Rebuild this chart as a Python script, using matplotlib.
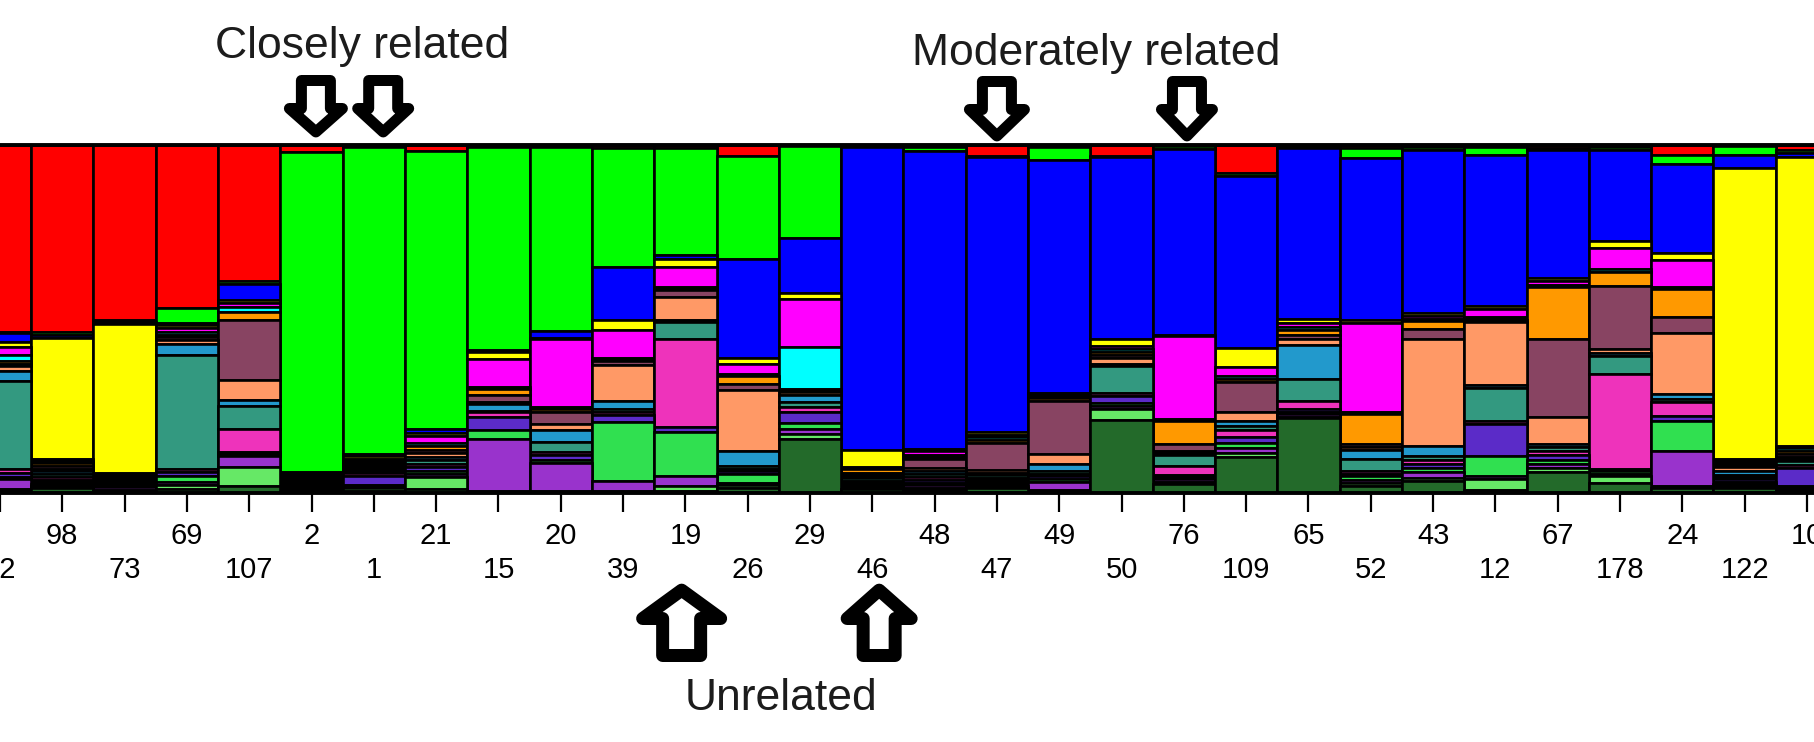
import matplotlib
matplotlib.use('Agg')
import matplotlib.pyplot as plt
import numpy as np
from matplotlib.patches import Polygon
from matplotlib.transforms import IdentityTransform, blended_transform_factory

plt.rcParams['font.family'] = ['Liberation Sans', 'DejaVu Sans']

# sample labels, left to right (first and last bars are cut by the frame)
labels = ['72', '98', '73', '69', '107', '2', '1', '21', '15', '20', '39', '19', '26', '29', '46',
          '48', '47', '49', '50', '76', '109', '65', '52', '43', '12', '67', '178', '24', '122', '10']

# cluster membership (%) per sample, clusters listed top -> bottom of each bar
red = [54.1, 53.8, 50.4, 46.4, 39.0, 2.0, 0.6, 1.8, 0.5, 0.5, 0.8, 1.0, 3.1, 0.3, 0.3,
       0.7, 3.1, 0.5, 3.1, 0.3, 7.9, 0.5, 0.8, 0.5, 0.5, 1.0, 0.5, 2.9, 0.4, 1.4]
green = [0.3, 0.8, 0.5, 4.3, 0.8, 91.9, 87.3, 79.1, 58.7, 52.6, 34.3, 30.5, 29.7, 26.3, 0.3,
         1.0, 0.3, 3.8, 0.3, 0.8, 0.9, 0.5, 2.8, 0.9, 2.4, 0.4, 1.0, 2.7, 2.5, 1.0]
blue = [2.6, 0.9, 0.5, 0.8, 4.6, 0.4, 0.6, 1.0, 0.5, 2.1, 15.3, 1.2, 28.3, 15.8, 86.8,
        85.1, 79.2, 67.0, 52.4, 53.4, 49.5, 49.0, 46.8, 46.9, 43.3, 36.9, 26.1, 25.3, 3.8, 1.1]
yellow = [1.4, 34.7, 42.9, 0.8, 0.9, 0.4, 0.6, 1.0, 2.1, 0.3, 2.7, 2.4, 1.9, 1.9, 4.8,
          0.8, 0.7, 0.5, 2.1, 0.3, 5.3, 1.2, 0.8, 0.8, 0.8, 0.9, 1.9, 2.1, 83.5, 82.9]
magenta = [2.5, 0.6, 0.4, 1.2, 0.9, 0.4, 0.6, 1.8, 8.0, 19.2, 8.0, 5.8, 2.8, 13.7, 0.4,
           0.9, 0.7, 0.5, 0.8, 23.8, 2.7, 1.2, 25.4, 0.8, 2.3, 0.9, 6.2, 7.7, 0.6, 0.8]
cyan = [1.6, 0.6, 0.4, 0.6, 1.6, 0.4, 0.6, 1.0, 0.6, 0.6, 0.5, 0.5, 0.6, 12.1, 0.3,
        0.7, 0.7, 0.4, 0.8, 0.6, 0.9, 0.8, 0.7, 0.8, 0.5, 0.8, 0.9, 0.8, 0.6, 0.8]
orange = [0.8, 0.9, 0.4, 0.6, 2.2, 0.4, 0.6, 1.0, 1.8, 1.0, 0.5, 0.4, 2.3, 0.5, 1.0,
          0.7, 0.8, 0.8, 0.8, 6.7, 0.9, 1.4, 8.6, 2.2, 0.6, 14.9, 3.9, 7.8, 0.6, 0.8]
mauve = [0.7, 0.9, 0.4, 0.8, 17.2, 0.4, 0.6, 1.0, 2.0, 3.5, 1.1, 2.0, 1.8, 0.5, 0.5,
         2.5, 8.0, 15.2, 0.8, 1.9, 8.5, 1.2, 0.8, 2.9, 0.5, 22.4, 18.2, 4.6, 0.6, 0.8]
salmon = [1.4, 0.6, 0.4, 1.2, 5.7, 0.4, 0.6, 1.0, 0.5, 1.5, 10.5, 6.4, 17.5, 0.8, 0.5,
          0.8, 0.7, 2.9, 1.7, 0.6, 2.6, 1.6, 0.8, 30.8, 18.0, 7.6, 1.0, 17.7, 1.2, 0.5]
steel = [2.9, 0.6, 0.4, 3.2, 1.6, 0.4, 0.6, 1.0, 2.0, 3.4, 2.2, 0.8, 4.2, 2.0, 0.4,
         0.8, 0.7, 2.0, 0.8, 0.6, 1.5, 9.9, 2.7, 2.7, 0.8, 1.0, 0.8, 1.3, 1.0, 0.6]
teal = [25.6, 1.0, 0.3, 32.6, 6.8, 0.4, 0.6, 1.0, 0.4, 3.0, 0.8, 4.8, 0.8, 1.5, 1.0,
        0.9, 0.7, 0.8, 7.8, 3.2, 1.2, 6.4, 3.4, 1.2, 9.6, 1.2, 5.3, 0.9, 0.7, 1.2]
pink = [1.0, 0.8, 0.5, 0.8, 6.6, 0.4, 0.8, 1.0, 1.4, 0.8, 0.8, 25.1, 0.8, 1.3, 0.4,
        0.8, 0.6, 0.8, 0.8, 2.5, 1.8, 2.2, 0.8, 1.2, 1.0, 1.2, 27.3, 4.0, 0.6, 0.8]
violet = [1.2, 0.6, 0.4, 1.2, 0.5, 0.4, 2.4, 1.0, 3.8, 1.6, 2.0, 1.6, 0.8, 3.3, 0.4,
          0.8, 0.6, 0.8, 1.8, 0.6, 1.8, 0.8, 0.8, 1.2, 9.2, 1.2, 0.6, 1.6, 0.6, 5.2]
green2 = [0.7, 0.6, 0.3, 1.6, 0.5, 0.4, 0.5, 1.0, 2.7, 0.6, 17.0, 12.7, 2.5, 1.5, 0.6,
          0.8, 0.6, 0.8, 1.0, 0.8, 1.4, 0.8, 1.2, 1.2, 5.7, 1.2, 0.8, 8.6, 0.6, 0.5]
purple = [2.9, 0.6, 1.0, 0.8, 3.2, 0.4, 0.5, 0.8, 15.0, 8.0, 3.0, 2.7, 0.7, 1.6, 0.4,
          0.8, 0.6, 2.4, 1.0, 0.6, 1.4, 0.8, 0.8, 1.5, 0.9, 1.2, 0.6, 9.9, 0.6, 0.5]
lightgreen = [0.3, 0.6, 0.3, 1.2, 5.4, 0.4, 0.8, 3.5, 0.3, 0.3, 0.3, 1.4, 0.7, 1.5, 0.4,
              0.6, 0.6, 0.4, 3.0, 0.6, 1.3, 0.3, 0.8, 1.0, 2.9, 1.3, 2.0, 0.6, 0.6, 0.5]
darkgreen = [0.8, 1.4, 0.5, 1.2, 2.0, 0.4, 0.6, 1.0, 0.2, 0.4, 0.2, 0.7, 1.5, 15.4, 1.2,
             0.8, 1.4, 0.4, 21.0, 2.7, 10.3, 21.5, 2.0, 3.4, 1.0, 5.9, 2.9, 1.5, 1.5, 0.6]

series = [red, green, blue, yellow, magenta, cyan, orange, mauve, salmon, steel,
          teal, pink, violet, green2, purple, lightgreen, darkgreen]
colors = ['#ff0000', '#00ff00', '#0000ff', '#ffff00', '#ff00ff', '#00ffff', '#ff9900',
          '#884462', '#ff9966', '#2299cc', '#339980', '#ee33bb', '#5b2bc8', '#30e050',
          '#9933cc', '#66e866', '#236a2a']

W, H = 1815, 742
fig = plt.figure(figsize=(W / 100, H / 100), dpi=100)
ax = fig.add_axes([0, (H - 493) / H, 1, 348 / H])

q = np.array(series, dtype=float)
q = q / q.sum(axis=0)
xs = np.arange(len(labels))
top = np.ones(len(labels))
for vals, col in zip(q, colors):
    ax.bar(xs, vals, bottom=top - vals, width=1.0, color=col,
           edgecolor='black', linewidth=1.9)
    top = top - vals

ax.set_xlim(0.0433, 0.0433 + W / 62.4)
ax.set_ylim(0, 1)
ax.set_yticks([])
ax.set_xticks(xs)
ax.set_xticklabels([])
ax.tick_params(axis='x', length=14, width=1.6, color='black', direction='out')
for s in ['left', 'right']:
    ax.spines[s].set_visible(False)
for s in ['top', 'bottom']:
    ax.spines[s].set_linewidth(2.8)

trans = blended_transform_factory(ax.transData, ax.transAxes)
for i, lab in enumerate(labels):
    y = -0.1236 if i % 2 else -0.2213
    ax.text(i, y, lab, transform=trans, ha='center', va='center',
            fontsize=21, color='black', clip_on=False)

txt = dict(transform=trans, ha='center', va='baseline', fontsize=32,
           color='#1c1c1c', clip_on=False)
ax.text(5.81, 1.25, 'Closely related', **txt)
ax.text(17.59, 1.23, 'Moderately related', **txt)
ax.text(12.53, -0.6236, 'Unrelated', **txt)


def block_arrow(xd, ytop, w, h, shaft, head, lw, up=False):
    # hollow block arrow; xd in data units, sizes in pixels from the top of the image
    xc = ax.transData.transform((xd, 0))[0]
    t = lw / 2
    hw = w / 2 - t
    sw = shaft / 2 - t
    hb = h - head + t
    pts = [(-sw, t), (sw, t), (sw, hb), (hw, hb), (0, h - t * 1.1), (-hw, hb), (-sw, hb)]
    if up:
        pts = [(x, h - y) for x, y in pts]
    disp = [(xc + x, H - (ytop + y)) for x, y in pts]
    poly = Polygon(disp, closed=True, facecolor='white', edgecolor='black',
                   linewidth=lw * 0.72, joinstyle='round', transform=IdentityTransform())
    fig.add_artist(poly)


block_arrow(5.07, 75, 64, 63, 40, 35, 11)
block_arrow(6.15, 75, 62, 63, 40, 35, 11)
block_arrow(16.0, 76, 66, 66, 40, 38, 11)
block_arrow(19.05, 76, 62, 66, 40, 38, 11)
block_arrow(10.94, 583, 91, 79, 51, 42, 13, up=True)
block_arrow(14.11, 583, 77, 79, 45, 42, 13, up=True)

fig.savefig('out.png', dpi=100, facecolor='white')
